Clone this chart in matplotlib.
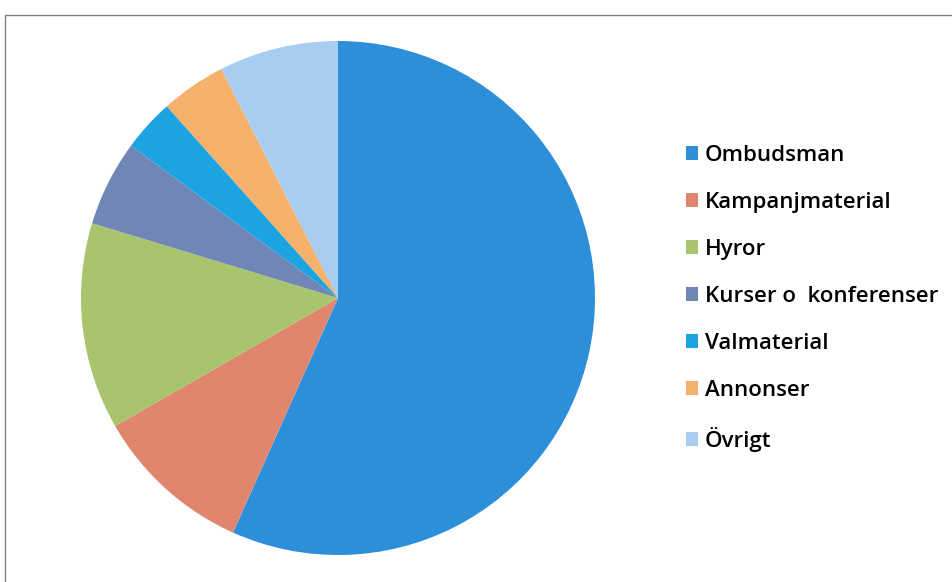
import matplotlib.pyplot as plt
from matplotlib.patches import Rectangle

# kostnadsfördelning (uppskattad från bilden, procent)
kategorier = ['Ombudsman', 'Kampanjmaterial', 'Hyror', 'Kurser o  konferenser',
              'Valmaterial', 'Annonser', 'Övrigt']
andelar = [56.7, 10.0, 13.0, 5.4, 3.3, 4.1, 7.5]
farger = ['#2d8fd9', '#e0866f', '#a8c46c', '#6f86b6', '#1ba3e2', '#f6b26c', '#a8cdf1']

W, H = 952, 582
fig = plt.figure(figsize=(W / 100, H / 100), dpi=100)

# ram runt diagrammet
fig.patches.append(Rectangle((5 / W, -0.05), 1.0, 1 - 15 / H + 0.05,
                             transform=fig.transFigure, fill=False,
                             edgecolor='#808080', linewidth=1.0))

cx, cy, r = 338, H - 298, 257
ax = fig.add_axes([(cx - r) / W, (cy - r) / H, 2 * r / W, 2 * r / H])
kilar, _ = ax.pie(andelar, colors=farger, startangle=90, counterclock=False,
                  radius=1, wedgeprops=dict(linewidth=0))
ax.set_xlim(-1, 1)
ax.set_ylim(-1, 1)
ax.set_aspect('equal')
ax.axis('off')

fig.legend(kilar, kategorier, loc='upper left', bbox_to_anchor=(666 / W, 1 - 125 / H),
           frameon=False, handlelength=0.55, handleheight=0.55,
           handletextpad=0.3, labelspacing=1.17,
           prop={'family': 'Open Sans', 'size': 16, 'weight': 'semibold'})

fig.savefig('out.png', dpi=100)
plt.close(fig)
